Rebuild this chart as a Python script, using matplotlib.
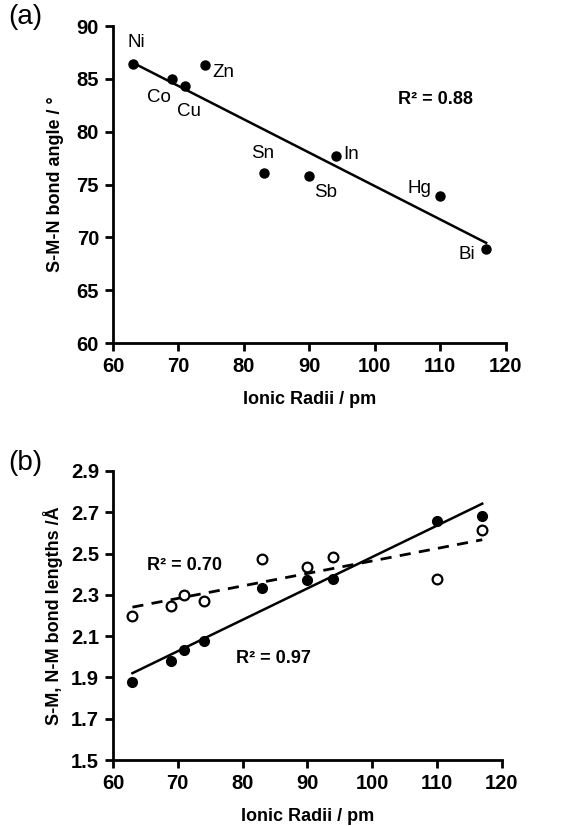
import numpy as np
import matplotlib
matplotlib.use("Agg")
import matplotlib.pyplot as plt

plt.rcParams['font.family'] = ['Liberation Sans', 'DejaVu Sans']

# Panel (a): S-M-N bond angle vs ionic radius
metals = ['Ni', 'Co', 'Cu', 'Zn', 'Sn', 'Sb', 'In', 'Hg', 'Bi']
radii = [63, 69, 71, 74, 83, 90, 94, 110, 117]
angle = [86.4, 85.0, 84.3, 86.3, 76.1, 75.8, 77.7, 73.9, 68.9]

# Panel (b): bond lengths vs ionic radius
sm_len = [1.88, 1.98, 2.035, 2.075, 2.335, 2.37, 2.375, 2.655, 2.68]   # filled
nm_len = [2.195, 2.245, 2.30, 2.27, 2.475, 2.435, 2.485, 2.375, 2.615]  # open

# label positions (data coords) for the metal names in (a)
label_pos = {
    'Ni': (63.6, 88.4, 'center'), 'Co': (67.0, 83.2, 'center'),
    'Cu': (71.6, 81.9, 'center'), 'Zn': (75.2, 85.6, 'left'),
    'Sn': (82.8, 77.9, 'center'), 'Sb': (92.5, 74.2, 'center'),
    'In': (95.1, 77.8, 'left'), 'Hg': (106.8, 74.6, 'center'),
    'Bi': (114.0, 68.4, 'center'),
}

FS = 13
TICK_FS = 14.5

fig = plt.figure(figsize=(5.81, 8.26), dpi=100)
ax1 = fig.add_axes([0.1945, 0.5847, 0.676, 0.3838])
ax2 = fig.add_axes([0.1945, 0.0799, 0.669, 0.350])


def style(ax):
    for s in ['top', 'right']:
        ax.spines[s].set_visible(False)
    for s in ['left', 'bottom']:
        ax.spines[s].set_linewidth(2)
    ax.tick_params(direction='out', length=6, width=2, labelsize=TICK_FS, pad=4)
    for lab in ax.get_xticklabels() + ax.get_yticklabels():
        lab.set_fontweight('bold')
    ax.set_xlabel('Ionic Radii / pm', fontsize=FS, fontweight='bold', labelpad=11)


# ---- (a)
x = np.array(radii)
ax1.plot(radii, angle, 'o', color='black', markersize=6.5)
m, b = np.polyfit(x, angle, 1)
xx = np.array([x.min(), x.max()])
ax1.plot(xx, m * xx + b, color='black', lw=1.8)
for name in metals:
    tx, ty, ha = label_pos[name]
    ax1.text(tx, ty, name, fontsize=13.5, ha=ha, va='center')
ax1.text(109.2, 83.0, 'R² = 0.88', fontsize=FS, fontweight='bold', ha='center', va='center')
ax1.set_xlim(60, 120)
ax1.set_ylim(60, 90)
ax1.set_xticks(range(60, 121, 10))
ax1.set_yticks(range(60, 91, 5))
style(ax1)
ax1.set_ylabel('S-M-N bond angle / °', fontsize=FS, fontweight='bold', labelpad=9)
fig.text(0.043, 0.979, '(a)', fontsize=20, ha='center', va='center')

# ---- (b)
m1, b1 = np.polyfit(x, sm_len, 1)
m2, b2 = np.polyfit(x, nm_len, 1)
ax2.plot(xx, m1 * xx + b1, color='black', lw=1.8)
ax2.plot(xx, m2 * xx + b2, color='black', lw=2, ls=(0, (4, 3)))
ax2.plot(radii, sm_len, 'o', color='black', markersize=7)
ax2.plot(radii, nm_len, 'o', mfc='white', mec='black', mew=1.6, markersize=7)
ax2.text(71.1, 2.44, 'R² = 0.70', fontsize=FS, fontweight='bold', ha='center', va='center')
ax2.text(84.7, 1.99, 'R² = 0.97', fontsize=FS, fontweight='bold', ha='center', va='center')
ax2.set_xlim(60, 120)
ax2.set_ylim(1.5, 2.9)
ax2.set_xticks(range(60, 121, 10))
ax2.set_yticks(np.arange(1.5, 2.91, 0.2))
ax2.set_yticklabels([f'{v:.1f}' for v in np.arange(1.5, 2.91, 0.2)])
style(ax2)
ax2.set_ylabel('S-M, N-M bond lengths /Å', fontsize=FS, fontweight='bold', labelpad=6)
fig.text(0.043, 0.439, '(b)', fontsize=20, ha='center', va='center')

fig.savefig('out.png', dpi=100)
